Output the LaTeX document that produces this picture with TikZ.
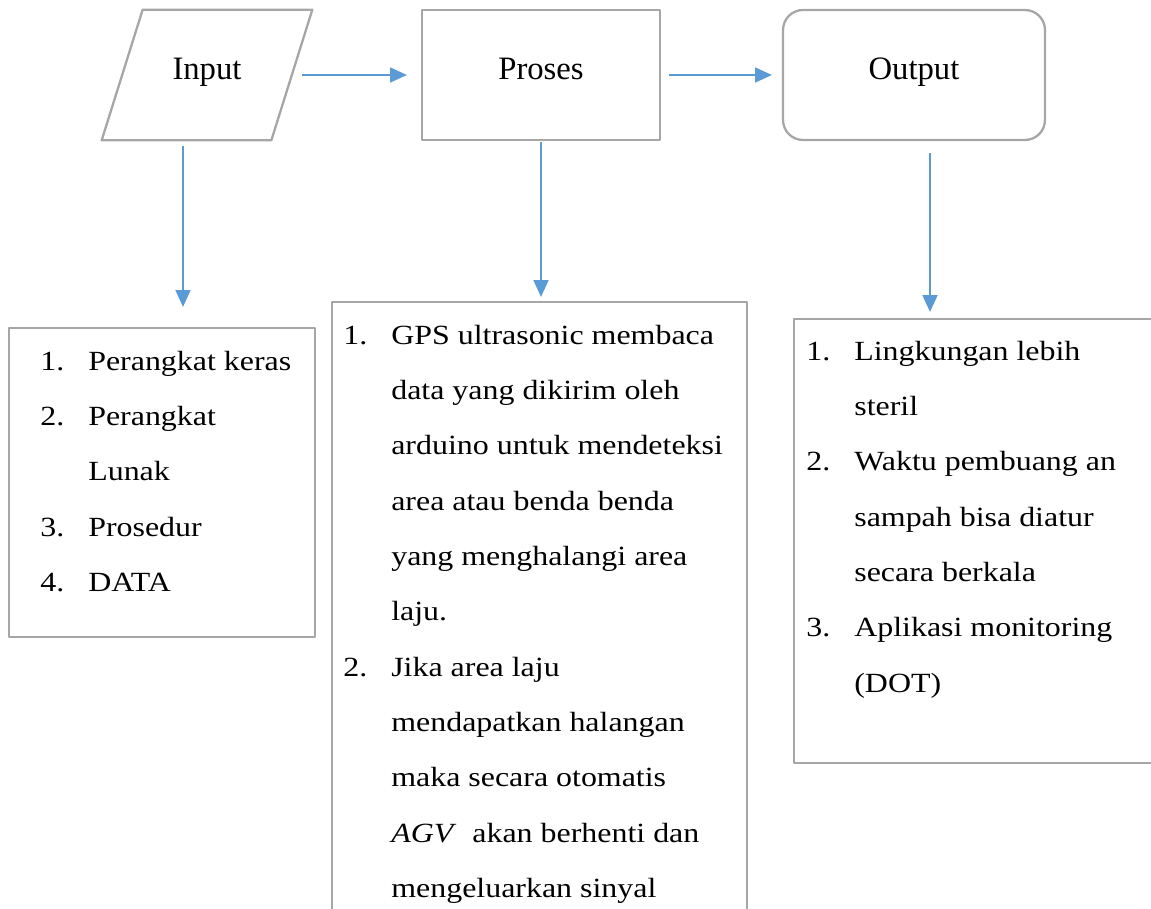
\documentclass[tikz,border=0pt]{standalone}
\usepackage{fontspec}
\setmainfont{Liberation Serif}
\newfontfamily\listfont[FakeStretch=1.15]{Liberation Serif}
\usetikzlibrary{arrows.meta,calc}
\definecolor{boxgray}{HTML}{A6A6A6}
\definecolor{flowblue}{HTML}{5B9BD5}
\newcommand{\steplist}[1]{\begin{tabular}[t]{@{}p{27.3pt}@{}l@{}}#1\end{tabular}}

\begin{document}
\begin{tikzpicture}[x=0.02cm,y=-0.02cm,line join=round,
    >={Triangle[length=9.5pt,width=8.5pt]},
    frame/.style={draw=boxgray,line width=1.3pt,inner sep=0pt},
    head/.style={font=\fontsize{18.6}{22}\selectfont,text height=12.6pt,text depth=8pt},
    flow/.style={->,flowblue,line width=0.85pt},
    lst/.style={anchor=base west,inner sep=0pt,font=\listfont\fontsize{15.8}{31.5}\selectfont}]
  \useasboundingbox (0,0) rectangle (1151,908);
  \clip (0,0) rectangle (1151,908);

  % --- top row: input, proses, output ---
  \node[head,inner sep=0pt,minimum width=3.38cm,minimum height=2.6cm] (input) at (207,75) {Input};
  \draw[boxgray,line width=1.3pt] ($(input.north west)+(20.5,0)$) -- ($(input.north east)+(20.5,0)$)
    -- ($(input.south east)+(-20.5,0)$) -- ($(input.south west)+(-20.5,0)$) -- cycle;
  \node[frame,head,minimum width=4.76cm,minimum height=2.6cm] (proses) at (541,75) {Proses};
  \node[frame,head,rounded corners=0.4cm,minimum width=5.24cm,minimum height=2.6cm] (output) at (914,75) {Output};

  % --- list boxes ---
  \node[frame,minimum width=6.12cm,minimum height=6.18cm] (list1) at (162,482.5) {};
  \node[frame,minimum width=8.3cm,minimum height=13.96cm] (list2) at (539.5,651) {};
  \node[frame,minimum width=7.42cm,minimum height=8.88cm] (list3) at (979.5,541) {};

  \node[lst] (items1) at (40,370) {\steplist{
    1. & Perangkat keras\\
    2. & Perangkat\\
       & Lunak\\
    3. & Prosedur\\
    4. & DATA}};
  \node[lst] (items2) at (343,344) {\steplist{
    1. & GPS ultrasonic membaca\\
       & data yang dikirim oleh\\
       & arduino untuk mendeteksi\\
       & area atau benda benda\\
       & yang menghalangi area\\
       & laju.\\
    2. & Jika area laju\\
       & mendapatkan halangan\\
       & maka secara otomatis\\
       & \textit{AGV}\ \ akan berhenti dan\\
       & mengeluarkan sinyal}};
  \node[lst] (items3) at (806,360) {\steplist{
    1. & Lingkungan lebih\\
       & steril\\
    2. & Waktu pembuang an\\
       & sampah bisa diatur\\
       & secara berkala\\
    3. & Aplikasi monitoring\\
       & (DOT)}};

  % --- arrows ---
  \draw[flow,shorten <=0.21cm,shorten >=0.28cm] (input.east) -- (proses.west);
  \draw[flow,shorten <=0.16cm,shorten >=0.2cm] (proses.east) -- (output.west);

  \coordinate (inDown) at ([xshift=-0.48cm]input.south);
  \coordinate (outDown) at ([xshift=0.32cm]output.south);
  \draw[flow,shorten <=0.12cm,shorten >=0.4cm] (inDown) -- (inDown |- list1.north);
  \draw[flow,shorten <=0.02cm,shorten >=0.08cm] (proses.south) -- (proses.south |- list2.north);
  \draw[flow,shorten <=0.24cm,shorten >=0.12cm] (outDown) -- (outDown |- list3.north);
\end{tikzpicture}
\end{document}
